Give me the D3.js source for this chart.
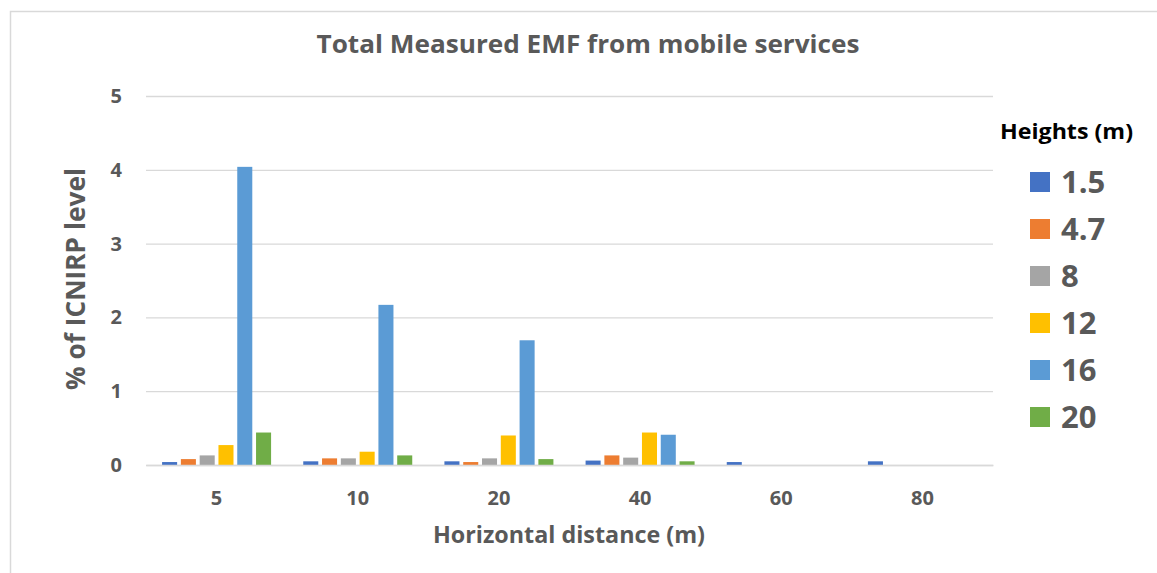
<!DOCTYPE html>
<html>
<head>
<meta charset="utf-8">
<script src="https://cdn.jsdelivr.net/npm/d3@7"></script>
<style>
  html, body { margin: 0; padding: 0; background: #fff; }
  svg { display: block; }
</style>
</head>
<body>
<svg id="chart" width="1157" height="573"></svg>
<script>
// ---- data ----
const categories = ["5", "10", "20", "40", "60", "80"];
const seriesNames = ["1.5", "4.7", "8", "12", "16", "20"];
const s1_5 = [0.04, 0.05, 0.05, 0.06, 0.04, 0.05];
const s4_7 = [0.08, 0.09, 0.04, 0.13, null, null];
const s8   = [0.13, 0.09, 0.09, 0.10, null, null];
const s12  = [0.27, 0.18, 0.40, 0.44, null, null];
const s16  = [4.04, 2.17, 1.69, 0.41, null, null];
const s20  = [0.44, 0.13, 0.08, 0.05, null, null];
const yTicks = [0, 1, 2, 3, 4, 5];
const colors = ["#4472C4", "#ED7D31", "#A5A5A5", "#FFC000", "#5B9BD5", "#70AD47"];
const titleText = "Total Measured EMF from mobile services";
const xTitleText = "Horizontal distance (m)";
const yTitleText = "% of ICNIRP level";
const legendTitleText = "Heights (m)";

const seriesValues = [s1_5, s4_7, s8, s12, s16, s20];
const rows = [];
categories.forEach((c, i) => {
  seriesNames.forEach((s, j) => {
    const v = seriesValues[j][i];
    if (v !== null) rows.push({ cat: c, series: s, value: v, idx: j });
  });
});

// ---- layout ----
const svg = d3.select("#chart");
const FONT = "'Open Sans', 'Noto Sans', sans-serif";
const textGray = "#595959";
const gridColor = "#d9d9d9";

const plot = { left: 146, right: 993, top: 96, bottom: 465 };

// outer chart border (extends beyond viewport on right/bottom)
svg.append("rect")
  .attr("x", 10.5).attr("y", 11.5)
  .attr("width", 1200).attr("height", 600)
  .attr("fill", "none")
  .attr("stroke", gridColor)
  .attr("stroke-width", 1.5);

const x0 = d3.scaleBand().domain(categories).range([plot.left, plot.right]).padding(0);
const x1 = d3.scaleBand().domain(seriesNames).range([0, x0.bandwidth()])
  .paddingInner(0.2).paddingOuter(0.856);
const y = d3.scaleLinear().domain([0, 5]).range([plot.bottom, plot.top]);

// gridlines
const yAxis = d3.axisLeft(y).tickValues(yTicks).tickSize(-(plot.right - plot.left)).tickPadding(24).tickFormat(d3.format("d"));
const gy = svg.append("g").attr("transform", `translate(${plot.left},0)`).call(yAxis);
gy.select(".domain").remove();
gy.selectAll(".tick line").attr("stroke", gridColor).attr("stroke-width", 1.3);
gy.selectAll(".tick text")
  .attr("fill", textGray)
  .style("font-family", FONT)
  .style("font-weight", "bold")
  .style("font-size", "20px");

// bars
svg.append("g").selectAll("rect")
  .data(rows)
  .join("rect")
  .attr("x", d => x0(d.cat) + x1(d.series))
  .attr("y", d => y(d.value))
  .attr("width", x1.bandwidth())
  .attr("height", d => y(0) - y(d.value))
  .attr("fill", d => colors[d.idx]);

// x axis
const xAxis = d3.axisBottom(x0).tickSize(0).tickPadding(26);
const gx = svg.append("g").attr("transform", `translate(0,${plot.bottom})`).call(xAxis);
gx.select(".domain").attr("stroke", gridColor).attr("stroke-width", 1.5);
gx.selectAll(".tick text")
  .attr("fill", textGray)
  .style("font-family", FONT)
  .style("font-weight", "bold")
  .style("font-size", "20px");

// title
svg.append("text")
  .attr("x", 588).attr("y", 53)
  .attr("text-anchor", "middle")
  .attr("fill", textGray)
  .style("font-family", FONT).style("font-weight", "bold").style("font-size", "25px")
  .attr("textLength", 543).attr("lengthAdjust", "spacingAndGlyphs")
  .text(titleText);

// x title
svg.append("text")
  .attr("x", 569).attr("y", 543)
  .attr("text-anchor", "middle")
  .attr("fill", textGray)
  .style("font-family", FONT).style("font-weight", "bold").style("font-size", "24px")
  .attr("textLength", 272).attr("lengthAdjust", "spacingAndGlyphs")
  .text(xTitleText);

// y title
svg.append("text")
  .attr("transform", "translate(85,279) rotate(-90)")
  .attr("text-anchor", "middle")
  .attr("fill", textGray)
  .style("font-family", FONT).style("font-weight", "bold").style("font-size", "26px")
  .attr("textLength", 222).attr("lengthAdjust", "spacingAndGlyphs")
  .text(yTitleText);

// legend
svg.append("text")
  .attr("x", 1000).attr("y", 139)
  .attr("fill", "#000")
  .style("font-family", FONT).style("font-weight", "bold").style("font-size", "22px")
  .attr("textLength", 133).attr("lengthAdjust", "spacingAndGlyphs")
  .text(legendTitleText);

const legendY = d3.scalePoint().domain(seriesNames).range([182, 417]);
const lg = svg.append("g").selectAll("g")
  .data(seriesNames)
  .join("g")
  .attr("transform", d => `translate(1030,${legendY(d)})`);
lg.append("rect")
  .attr("x", 0).attr("y", -10)
  .attr("width", 20).attr("height", 20)
  .attr("fill", (d, i) => colors[i]);
lg.append("text")
  .attr("x", 31).attr("y", 0)
  .attr("dy", "0.35em")
  .attr("fill", textGray)
  .style("font-family", FONT).style("font-weight", "bold").style("font-size", "31px")
  .text(d => d);
</script>
</body>
</html>
